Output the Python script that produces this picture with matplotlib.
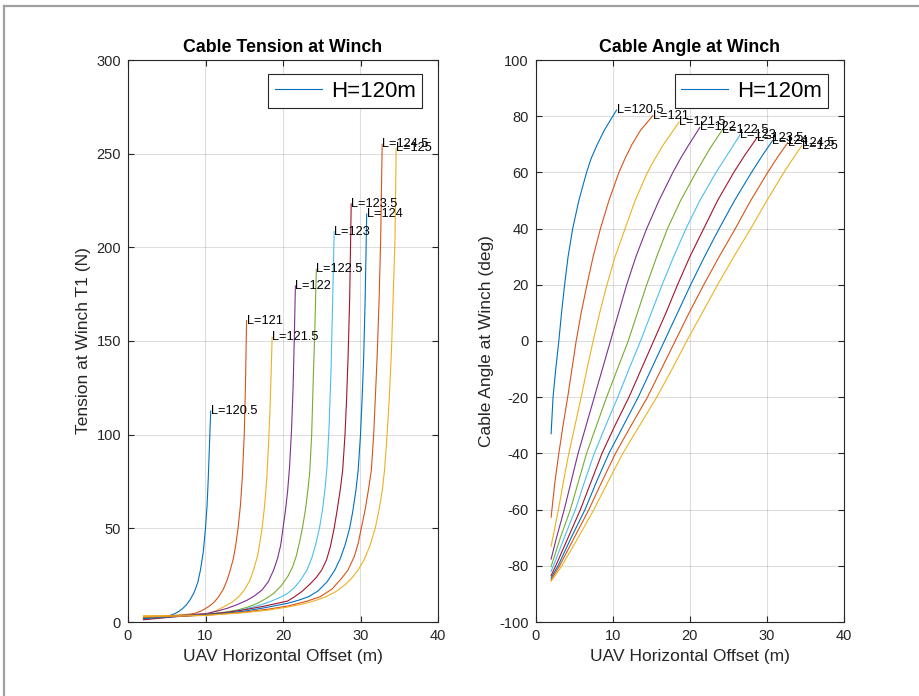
import matplotlib
matplotlib.use("Agg")
import matplotlib.pyplot as plt
from matplotlib.lines import Line2D

plt.rcParams['font.family'] = ['Liberation Sans', 'DejaVu Sans']
plt.rcParams['axes.unicode_minus'] = False

# Cable lengths (m) for each curve, UAV height fixed at 120 m
cable_lengths = [120.5, 121, 121.5, 122, 122.5, 123, 123.5, 124, 124.5, 125]

# Winch tension (N) against UAV horizontal offset (m)
tension_x = [
    [2, 3, 4, 5, 5.5, 6, 6.5, 7.0, 7.5, 8.0, 8.5, 9.0, 9.35, 9.7, 10.0, 10.2, 10.35, 10.5, 10.67],
    [2, 4, 6, 7, 8, 8.7, 9.5, 10.4, 11.1, 11.7, 12.3, 12.8, 13.2, 13.6, 13.9, 14.2, 14.5, 14.75, 15.0, 15.15, 15.3],
    [2, 5, 8, 9.5, 10.4, 11.4, 12.4, 13.4, 14.3, 15.0, 15.7, 16.2, 16.7, 17.0, 17.3, 17.6, 17.9, 18.1, 18.3, 18.45, 18.6],
    [2, 5, 8, 10.2, 11.5, 12.8, 14.1, 15.4, 16.4, 17.3, 18.1, 18.8, 19.3, 19.7, 20.0, 20.3, 20.6, 20.85, 21.1, 21.3, 21.45, 21.6],
    [2, 6, 9, 11, 12.6, 14.1, 15.5, 16.7, 17.8, 18.8, 19.7, 20.6, 21.2, 21.7, 22.1, 22.5, 22.9, 23.2, 23.45, 23.7, 23.9, 24.1, 24.3],
    [2, 6, 10, 12.8, 15, 17.1, 18.6, 19.8, 20.6, 21.5, 22.3, 23.1, 23.7, 24.2, 24.7, 25.1, 25.45, 25.7, 25.95, 26.2, 26.4, 26.6],
    [2, 6, 10, 13, 15, 17.5, 19.5, 20.6, 21.5, 22.5, 23.5, 24.3, 25.0, 25.6, 26.1, 26.6, 27.0, 27.4, 27.7, 28.0, 28.2, 28.4, 28.6, 28.8],
    [2, 6, 10, 13, 15, 17.5, 20.6, 22, 23.3, 24.5, 25.7, 26.7, 27.4, 28.0, 28.6, 29.0, 29.4, 29.7, 30.0, 30.2, 30.4, 30.6, 30.8],
    [2, 6, 10, 13, 15, 18, 20.6, 23, 24.8, 26.3, 27.5, 28.4, 29.2, 29.7, 30.1, 30.6, 31.0, 31.4, 31.7, 31.9, 32.15, 32.4, 32.6, 32.8],
    [2, 6, 10, 13, 15, 18, 20.6, 22.5, 24, 25.5, 26.8, 28, 29, 29.8, 30.5, 31.2, 31.9, 32.4, 32.8, 33.1, 33.4, 33.7, 34.0, 34.2, 34.45, 34.6],
]
tension_vals = [
    [2.2, 2.3, 2.6, 3.1, 3.6, 4.4, 5.5, 7.0, 9.0, 11.8, 15.5, 21, 27.8, 37, 50, 62, 76, 93, 112.6],
    [3.0, 3.2, 3.5, 3.8, 4.2, 4.7, 6.0, 8.2, 10.5, 13.5, 17.5, 22.5, 27.8, 34, 41, 50, 62, 77, 100, 125, 160.9],
    [3.3, 3.4, 3.8, 4.2, 4.6, 6.1, 8.2, 10.5, 13.5, 17, 22, 27.8, 35, 42, 50, 61, 76, 92, 111, 130, 152],
    [2.0, 3.0, 3.8, 4.6, 5.8, 7.3, 9.3, 11.7, 14.2, 17.1, 21.5, 27.8, 34, 41, 50, 59, 70, 83, 102.5, 125, 150, 179.4],
    [2.4, 3.0, 3.8, 4.5, 5.3, 6.4, 8.0, 10, 12.5, 15.3, 19, 24.2, 29, 35, 42, 50, 60, 70, 80, 100, 129, 155, 188.3],
    [1.6, 2.8, 3.9, 5.0, 6.8, 9.1, 11.3, 13.5, 15.3, 18.5, 22.5, 27.8, 34, 41, 50, 60, 72, 84, 105, 135, 170, 208.4],
    [1.2, 2.8, 4.0, 5.3, 6.5, 8.4, 10.2, 11.2, 13.5, 16.5, 20.3, 23.8, 27.8, 33, 40, 50, 60, 71, 81, 100, 118.5, 142, 172, 223.2],
    [1.8, 2.9, 3.8, 4.9, 5.8, 7.5, 10, 11.6, 13.5, 16.5, 21.5, 27.8, 34, 41, 50, 59, 70, 81, 100, 118.5, 140, 172, 217.8],
    [2.6, 3.0, 3.6, 4.6, 5.3, 6.8, 8.5, 11, 13.5, 17.5, 23, 27.8, 35, 42, 50, 60, 70, 81, 100, 118.5, 142, 172, 204, 255],
    [3.0, 3.2, 3.5, 4.4, 5.0, 6.3, 8.0, 9.6, 11.2, 13.4, 16.2, 19.8, 24, 28.5, 33.5, 40.5, 50, 60, 70, 81, 98, 118.5, 145, 172, 204, 252.9],
]

# Cable angle at the winch (deg) against UAV horizontal offset (m)
angle_x = [
    [2.0, 2.25, 2.6, 3.0, 3.35, 3.75, 4.2, 4.8, 5.6, 6.6, 7.2, 8.0, 8.9, 10.0, 10.5],
    [2.0, 2.5, 3.0, 3.55, 4.15, 4.7, 5.25, 5.9, 6.65, 7.45, 8.4, 9.5, 10.8, 11.6, 12.5, 13.6, 15.2],
    [2.0, 2.95, 3.6, 4.3, 5.1, 5.9, 6.65, 7.45, 8.3, 9.25, 10.3, 11.6, 12.9, 14.5, 15.5, 16.6, 18.6],
    [2.0, 2.7, 3.7, 4.6, 5.5, 6.55, 7.6, 8.65, 9.7, 10.75, 11.8, 13.0, 14.4, 16.0, 17.8, 18.8, 19.9, 21.3],
    [2.0, 3.2, 4.5, 5.55, 6.6, 7.9, 9.2, 10.6, 12.0, 13.2, 14.4, 15.7, 17.1, 18.8, 20.8, 22.6, 24.2],
    [2.0, 2.3, 3.7, 5.15, 6.35, 7.6, 9.1, 10.65, 12.1, 13.6, 15.0, 16.4, 17.9, 19.5, 21.3, 23.4, 24.8, 26.5],
    [2.0, 2.6, 4.2, 5.8, 7.2, 8.6, 10.3, 12.1, 13.7, 15.3, 16.9, 18.4, 20.0, 21.8, 23.6, 25.7, 27.1, 28.7],
    [2.0, 2.9, 4.6, 6.4, 7.9, 9.5, 11.4, 13.3, 15.0, 16.7, 18.4, 20.1, 21.9, 23.8, 25.8, 28.0, 29.4, 30.7],
    [2.0, 3.1, 5.0, 6.9, 8.6, 10.35, 12.4, 14.5, 16.3, 18.1, 19.9, 21.8, 23.8, 25.9, 27.9, 30.1, 31.4, 32.7],
    [2.0, 3.4, 5.5, 7.55, 9.4, 11.3, 13.5, 15.7, 17.7, 19.6, 21.6, 23.6, 25.7, 27.9, 30.0, 32.2, 33.4, 34.5],
]
angle_vals = [
    [-33, -20, -10, 0, 10, 20, 30, 40, 50, 60, 65, 70, 75, 80, 82.2],
    [-62.7, -50, -40, -30, -20, -10, 0, 10, 20, 30, 40, 50, 60, 65, 70, 75, 80.2],
    [-73, -60, -50, -40, -30, -20, -10, 0, 10, 20, 30, 40, 50, 60, 65, 70, 77.9],
    [-77.6, -70, -60, -50, -40, -30, -20, -10, 0, 10, 20, 30, 40, 50, 60, 65, 70, 76],
    [-80.3, -70, -60, -50, -40, -30, -20, -10, 0, 10, 20, 30, 40, 50, 60, 68.5, 75.1],
    [-82, -80, -70, -60, -50, -40, -30, -20, -10, 0, 10, 20, 30, 40, 50, 60, 66, 73.3],
    [-83.5, -80, -70, -60, -50, -40, -30, -20, -10, 0, 10, 20, 30, 40, 50, 60, 66, 72.3],
    [-84.3, -80, -70, -60, -50, -40, -30, -20, -10, 0, 10, 20, 30, 40, 50, 60, 66, 71.2],
    [-85, -80, -70, -60, -50, -40, -30, -20, -10, 0, 10, 20, 30, 40, 50, 60, 65.5, 70.6],
    [-85.5, -80, -70, -60, -50, -40, -30, -20, -10, 0, 10, 20, 30, 40, 50, 60, 65, 69.4],
]

legend_text = "H=120m"
colors = ['#0072BD', '#D95319', '#EDB120', '#7E2F8E', '#77AC30',
          '#4DBEEE', '#A2142F']
axis_gray = '#262626'

fig = plt.figure(figsize=(9.2, 6.96), dpi=100)
fig.patch.set_facecolor('white')

# Figure frame (top and left edges)
fig.add_artist(Line2D([4 / 920, 1.0], [1 - 6 / 696, 1 - 6 / 696],
                      color='#a0a0a0', lw=1.6, transform=fig.transFigure))
fig.add_artist(Line2D([4 / 920, 4 / 920], [0, 1 - 6 / 696],
                      color='#a0a0a0', lw=1.6, transform=fig.transFigure))

ax1 = fig.add_axes([128 / 920, 1 - 622 / 696, 310 / 920, 562 / 696])
ax2 = fig.add_axes([535.7 / 920, 1 - 622 / 696, 308.3 / 920, 562 / 696])


def style_axes(ax):
    for sp in ax.spines.values():
        sp.set_color(axis_gray)
        sp.set_linewidth(0.8)
    ax.tick_params(direction='in', length=4, width=0.8, colors=axis_gray,
                   labelsize=10.5, top=True, right=True, pad=5)
    ax.grid(True, color=axis_gray, alpha=0.15, linewidth=0.8)
    ax.set_axisbelow(True)


for i, L in enumerate(cable_lengths):
    c = colors[i % len(colors)]
    ax1.plot(tension_x[i], tension_vals[i], color=c, lw=0.8)
    ax1.text(tension_x[i][-1], tension_vals[i][-1], f"L={L:g}",
             ha='left', va='center', fontsize=9.2, color='black')
    ax2.plot(angle_x[i], angle_vals[i], color=c, lw=0.8)
    ax2.text(angle_x[i][-1], angle_vals[i][-1], f"L={L:g}",
             ha='left', va='center', fontsize=9.2, color='black')

ax1.set_xlim(0, 40)
ax1.set_ylim(0, 300)
ax1.set_xticks(range(0, 41, 10))
ax1.set_yticks(range(0, 301, 50))
ax1.set_title("Cable Tension at Winch", fontsize=12.8, fontweight='bold', pad=6)
ax1.set_xlabel("UAV Horizontal Offset (m)", fontsize=12.5, color=axis_gray)
ax1.set_ylabel("Tension at Winch T1 (N)", fontsize=12.5, color=axis_gray)

ax2.set_xlim(0, 40)
ax2.set_ylim(-100, 100)
ax2.set_xticks(range(0, 41, 10))
ax2.set_yticks(range(-100, 101, 20))
ax2.set_title("Cable Angle at Winch", fontsize=12.8, fontweight='bold', pad=6)
ax2.set_xlabel("UAV Horizontal Offset (m)", fontsize=12.5, color=axis_gray)
ax2.set_ylabel("Cable Angle at Winch (deg)", fontsize=12.5, color=axis_gray)

for ax in (ax1, ax2):
    style_axes(ax)
    leg = ax.legend([ax.lines[0]], [legend_text], loc='upper right',
                    bbox_to_anchor=(0.949, 0.975), borderaxespad=0,
                    fontsize=16, handlelength=2.1, handletextpad=0.4,
                    borderpad=0.3, fancybox=False, framealpha=1)
    leg.get_frame().set_edgecolor(axis_gray)
    leg.get_frame().set_linewidth(0.8)

fig.savefig("out.png", dpi=100)
